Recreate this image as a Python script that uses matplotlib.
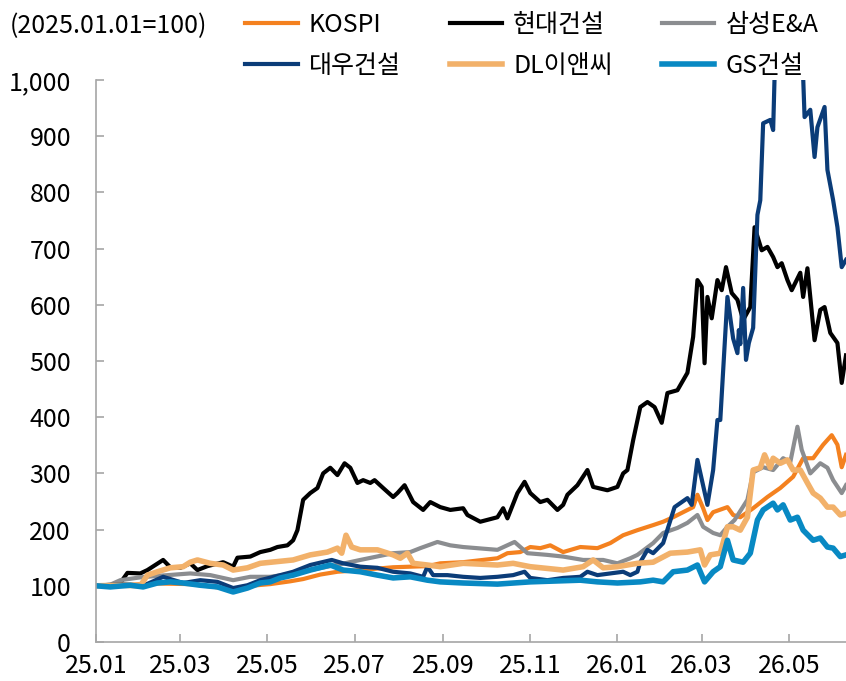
import matplotlib
matplotlib.use("Agg")
import matplotlib.pyplot as plt
import matplotlib.dates as mdates
from matplotlib.ticker import FuncFormatter
import pandas as pd

plt.rcParams['font.family'] = ['Liberation Sans Narrow', 'Noto Sans CJK KR', 'DejaVu Sans']

title = "(2025.01.01=100)"
names = ["KOSPI", "현대건설", "삼성E&A", "대우건설", "DL이앤씨", "GS건설"]
colors = ["#F4811F", "#000000", "#8B8D90", "#0B3C78", "#F2B16A", "#0889C3"]
widths = [3.0, 3.0, 3.0, 3.0, 4.0, 4.0]

kospi_dates = ["2025-01-01","2025-01-25","2025-02-15","2025-03-08","2025-03-25","2025-04-07","2025-04-19","2025-05-03","2025-05-17","2025-05-26","2025-06-07","2025-06-19","2025-07-05","2025-07-28","2025-08-21","2025-08-30","2025-09-15","2025-10-09","2025-10-16","2025-10-25","2025-11-01","2025-11-08","2025-11-15","2025-11-24","2025-12-06","2025-12-18","2025-12-27","2026-01-05","2026-01-15","2026-01-26","2026-02-02","2026-02-09","2026-02-16","2026-02-23","2026-02-26","2026-03-02","2026-03-05","2026-03-09","2026-03-19","2026-03-23","2026-03-28","2026-04-06","2026-04-16","2026-04-25","2026-05-04","2026-05-11","2026-05-18","2026-05-25","2026-05-31","2026-06-04","2026-06-07","2026-06-10"]
kospi_vals = [100,102,104,103,98,92,100,103,108,112,120,125,128,133,135,140,142,149,158,160,169,167,172,160,169,167,176,190,199,208,214,222,231,240,262,238,217,231,240,226,222,238,258,274,294,327,327,351,368,351,311,333]

hd_dates = ["2025-01-01","2025-01-11","2025-01-18","2025-01-23","2025-02-01","2025-02-06","2025-02-17","2025-02-22","2025-03-01","2025-03-08","2025-03-13","2025-03-20","2025-03-31","2025-04-07","2025-04-10","2025-04-19","2025-04-26","2025-05-03","2025-05-08","2025-05-15","2025-05-19","2025-05-22","2025-05-26","2025-05-31","2025-06-05","2025-06-09","2025-06-14","2025-06-19","2025-06-24","2025-06-28","2025-07-03","2025-07-07","2025-07-12","2025-07-15","2025-07-21","2025-07-28","2025-07-31","2025-08-05","2025-08-11","2025-08-18","2025-08-23","2025-08-30","2025-09-06","2025-09-15","2025-09-18","2025-09-27","2025-10-09","2025-10-13","2025-10-16","2025-10-23","2025-10-28","2025-11-01","2025-11-08","2025-11-13","2025-11-20","2025-11-24","2025-11-27","2025-12-04","2025-12-11","2025-12-15","2025-12-25","2026-01-01","2026-01-05","2026-01-08","2026-01-12","2026-01-17","2026-01-22","2026-01-27","2026-02-01","2026-02-05","2026-02-12","2026-02-19","2026-02-23","2026-02-26","2026-03-01","2026-03-03","2026-03-05","2026-03-08","2026-03-12","2026-03-15","2026-03-18","2026-03-22","2026-03-26","2026-03-30","2026-04-04","2026-04-07","2026-04-12","2026-04-16","2026-04-20","2026-04-23","2026-04-26","2026-04-30","2026-05-03","2026-05-09","2026-05-11","2026-05-14","2026-05-19","2026-05-23","2026-05-26","2026-05-30","2026-06-04","2026-06-07","2026-06-10"]
hd_vals = [100,101,105,123,122,128,146,133,132,140,128,135,142,134,150,152,160,164,169,172,181,199,253,265,274,300,310,297,318,310,283,288,283,288,274,258,265,279,249,235,249,240,235,238,226,214,222,238,220,265,285,265,249,253,235,244,262,279,306,276,270,276,300,306,359,418,427,418,390,443,448,479,543,644,632,496,614,576,644,626,667,621,609,573,596,738,697,703,685,667,674,644,626,657,614,665,537,591,596,550,532,461,510]

ss_dates = ["2025-01-01","2025-01-11","2025-01-18","2025-02-01","2025-02-15","2025-03-08","2025-03-22","2025-04-07","2025-04-19","2025-05-03","2025-05-19","2025-06-12","2025-06-24","2025-07-05","2025-07-28","2025-08-09","2025-08-16","2025-08-28","2025-09-06","2025-09-15","2025-10-09","2025-10-21","2025-10-30","2025-11-13","2025-11-24","2025-12-08","2025-12-22","2026-01-01","2026-01-10","2026-01-15","2026-01-26","2026-02-02","2026-02-12","2026-02-19","2026-02-26","2026-03-02","2026-03-09","2026-03-14","2026-03-19","2026-03-24","2026-04-02","2026-04-06","2026-04-13","2026-04-20","2026-04-27","2026-05-02","2026-05-07","2026-05-10","2026-05-16","2026-05-23","2026-05-28","2026-06-01","2026-06-07","2026-06-10"]
ss_vals = [100,102,110,115,118,122,119,110,116,116,122,134,140,146,158,160,167,178,172,169,164,178,158,155,152,146,146,140,149,155,176,194,203,212,226,205,194,190,205,217,253,302,311,306,327,320,383,342,300,318,310,288,265,279]

dw_dates = ["2025-01-01","2025-01-18","2025-02-03","2025-02-17","2025-03-03","2025-03-15","2025-03-27","2025-04-07","2025-04-17","2025-04-26","2025-05-10","2025-05-19","2025-05-31","2025-06-15","2025-06-23","2025-07-05","2025-07-17","2025-07-28","2025-08-09","2025-08-18","2025-08-21","2025-08-25","2025-09-04","2025-09-15","2025-09-27","2025-10-09","2025-10-20","2025-10-28","2025-11-01","2025-11-13","2025-11-24","2025-12-06","2025-12-11","2025-12-18","2025-12-27","2026-01-05","2026-01-10","2026-01-15","2026-01-17","2026-01-22","2026-01-26","2026-02-02","2026-02-10","2026-02-19","2026-02-22","2026-02-26","2026-03-05","2026-03-09","2026-03-12","2026-03-14","2026-03-19","2026-03-23","2026-03-26","2026-03-27","2026-03-28","2026-03-30","2026-04-01","2026-04-03","2026-04-06","2026-04-09","2026-04-11","2026-04-13","2026-04-18","2026-04-20","2026-04-22","2026-04-30","2026-05-09","2026-05-12","2026-05-16","2026-05-19","2026-05-21","2026-05-26","2026-05-28","2026-06-01","2026-06-04","2026-06-07","2026-06-10"]
dw_vals = [100,103,100,116,105,110,107,96,101,110,119,125,137,146,140,134,132,125,122,116,134,119,119,116,114,116,119,125,114,110,114,116,125,119,122,125,119,125,142,164,158,176,240,256,244,324,244,306,395,395,614,540,514,555,530,630,502,532,559,760,786,923,929,911,1100,1250,1150,934,947,863,916,952,840,786,738,667,680]

dl_dates = ["2025-01-01","2025-01-18","2025-02-01","2025-02-06","2025-02-13","2025-02-22","2025-03-03","2025-03-08","2025-03-13","2025-03-22","2025-03-31","2025-04-07","2025-04-17","2025-04-26","2025-05-19","2025-05-31","2025-06-12","2025-06-19","2025-06-22","2025-06-25","2025-06-29","2025-07-05","2025-07-17","2025-07-28","2025-08-02","2025-08-07","2025-08-11","2025-08-21","2025-08-30","2025-09-15","2025-10-09","2025-10-20","2025-11-01","2025-11-24","2025-12-08","2025-12-15","2025-12-22","2026-01-01","2026-01-15","2026-01-26","2026-02-07","2026-02-19","2026-02-28","2026-03-03","2026-03-07","2026-03-14","2026-03-19","2026-03-23","2026-03-28","2026-04-02","2026-04-06","2026-04-11","2026-04-14","2026-04-18","2026-04-20","2026-04-25","2026-04-30","2026-05-04","2026-05-09","2026-05-14","2026-05-18","2026-05-23","2026-05-28","2026-06-01","2026-06-06","2026-06-10"]
dl_vals = [100,101,100,119,125,132,134,142,146,140,137,128,132,140,146,155,160,167,158,190,169,164,164,155,149,158,140,137,134,140,137,140,134,128,134,146,132,134,140,142,158,160,164,137,155,158,205,205,199,222,306,310,333,310,327,318,324,306,306,283,265,256,240,240,226,229]

gs_dates = ["2025-01-01","2025-01-11","2025-01-25","2025-02-03","2025-02-13","2025-02-22","2025-03-03","2025-03-15","2025-03-27","2025-04-07","2025-04-17","2025-04-26","2025-05-03","2025-05-10","2025-05-19","2025-05-31","2025-06-14","2025-06-23","2025-07-05","2025-07-17","2025-07-28","2025-08-09","2025-08-21","2025-08-30","2025-09-15","2025-10-09","2025-11-01","2025-12-06","2025-12-18","2026-01-01","2026-01-17","2026-01-26","2026-02-02","2026-02-09","2026-02-19","2026-02-26","2026-03-03","2026-03-09","2026-03-14","2026-03-19","2026-03-23","2026-03-30","2026-04-04","2026-04-09","2026-04-13","2026-04-20","2026-04-23","2026-04-27","2026-05-02","2026-05-07","2026-05-11","2026-05-18","2026-05-23","2026-05-28","2026-06-01","2026-06-06","2026-06-10"]
gs_vals = [100,98,101,98,105,107,105,101,98,89,96,105,107,114,119,128,137,128,125,119,114,116,110,107,105,103,107,110,107,105,107,110,107,125,128,137,107,125,134,181,146,142,158,217,235,247,235,244,217,222,199,181,185,169,167,152,155]

series = [
    (kospi_dates, kospi_vals),
    (hd_dates, hd_vals),
    (ss_dates, ss_vals),
    (dw_dates, dw_vals),
    (dl_dates, dl_vals),
    (gs_dates, gs_vals),
]

fig = plt.figure(figsize=(8.46, 6.81), dpi=100)
ax = fig.add_axes([96/846, 1 - 642/681, 750/846, 562/681])

handles = []
for (d, v), name, c, w in zip(series, names, colors, widths):
    h, = ax.plot(pd.to_datetime(d), v, color=c, lw=w, label=name, solid_joinstyle='round')
    handles.append(h)

ax.set_ylim(0, 1000)
ax.set_xlim(pd.Timestamp("2025-01-01"), pd.Timestamp("2026-06-10"))
ax.set_yticks(range(0, 1001, 100))
ax.yaxis.set_major_formatter(FuncFormatter(lambda v, p: f"{int(v):,}"))
ax.xaxis.set_major_locator(mdates.MonthLocator(bymonth=[1, 3, 5, 7, 9, 11]))
ax.xaxis.set_major_formatter(mdates.DateFormatter("%y.%m"))

for s in ["top", "right"]:
    ax.spines[s].set_visible(False)
for s in ["left", "bottom"]:
    ax.spines[s].set_color("#A6A6A6")
    ax.spines[s].set_linewidth(1.2)
ax.tick_params(axis="both", direction="in", length=6, width=1.2, color="#A6A6A6",
               labelsize=18, labelcolor="#000000")
ax.tick_params(axis="x", pad=8)
ax.tick_params(axis="y", pad=18)

fig.text(10/846, 1 - 26/681, title, fontsize=18, ha="left", va="center")

order = [0, 3, 1, 4, 2, 5]
fig.legend([handles[i] for i in order], [names[i] for i in order], ncol=3,
           loc="upper left", bbox_to_anchor=(235/846, 1 - 2/681), frameon=False,
           fontsize=18, handlelength=2.1, handletextpad=0.45, columnspacing=1.95,
           labelspacing=0.6, borderaxespad=0)

fig.savefig("out.png", dpi=100)
